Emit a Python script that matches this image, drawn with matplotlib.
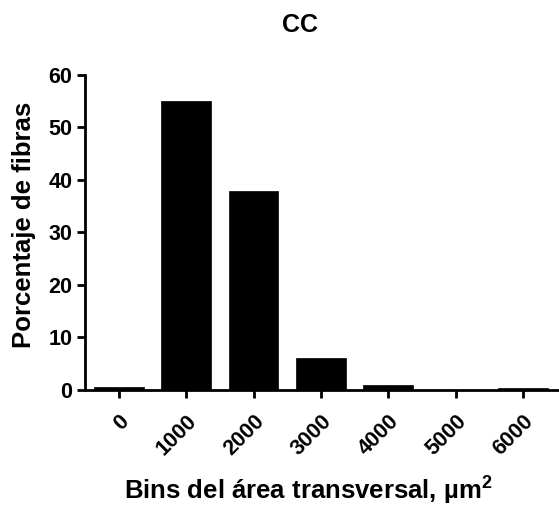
import matplotlib
matplotlib.use("Agg")
import matplotlib.pyplot as plt
from matplotlib.transforms import ScaledTranslation

plt.rcParams['font.family'] = ['Liberation Sans', 'DejaVu Sans']
plt.rcParams['mathtext.fontset'] = 'custom'
plt.rcParams['mathtext.bf'] = 'Liberation Sans:bold'
plt.rcParams['mathtext.rm'] = 'Liberation Sans'

categories = ["0", "1000", "2000", "3000", "4000", "5000", "6000"]
values = [0.6, 55.0, 37.8, 6.1, 0.9, 0.0, 0.4]

fig = plt.figure(figsize=(5.59, 5.08), dpi=100)
ax = fig.add_axes([0.152, 0.2323, 0.848, 0.6207])

x = list(range(len(categories)))
ax.bar(x, values, width=0.74, color="black", edgecolor="black", linewidth=0.5)

ax.set_xlim(-0.5, 6.53)
ax.set_ylim(0, 60)
ax.set_yticks([0, 10, 20, 30, 40, 50, 60])
ax.set_yticklabels([str(v) for v in [0, 10, 20, 30, 40, 50, 60]],
                   fontsize=15.5, fontweight="bold")
ax.set_xticks(x)
ax.set_xticklabels(categories, rotation=45, ha="right", rotation_mode="anchor",
                   fontsize=15.5, fontweight="bold")
offset = ScaledTranslation(-4 / 100, 0, fig.dpi_scale_trans)
for lab in ax.get_xticklabels():
    lab.set_transform(lab.get_transform() + offset)

for s in ["top", "right"]:
    ax.spines[s].set_visible(False)
for s in ["left", "bottom"]:
    ax.spines[s].set_linewidth(2)
ax.tick_params(axis="both", width=2, length=6, pad=3)
ax.tick_params(axis="x", pad=9)

ax.set_ylabel("Porcentaje de fibras", fontsize=18.5, fontweight="bold")
ax.yaxis.set_label_coords(-0.104, 0.523)
ax.set_xlabel("Bins del área transversal, µm$\\mathbf{^2}$", fontsize=18.5,
              fontweight="bold")
ax.xaxis.set_label_coords(0.47, -0.27)
ax.set_title("CC", fontsize=18, fontweight="bold", x=0.4536, pad=31)

fig.savefig("out.png", dpi=100)
